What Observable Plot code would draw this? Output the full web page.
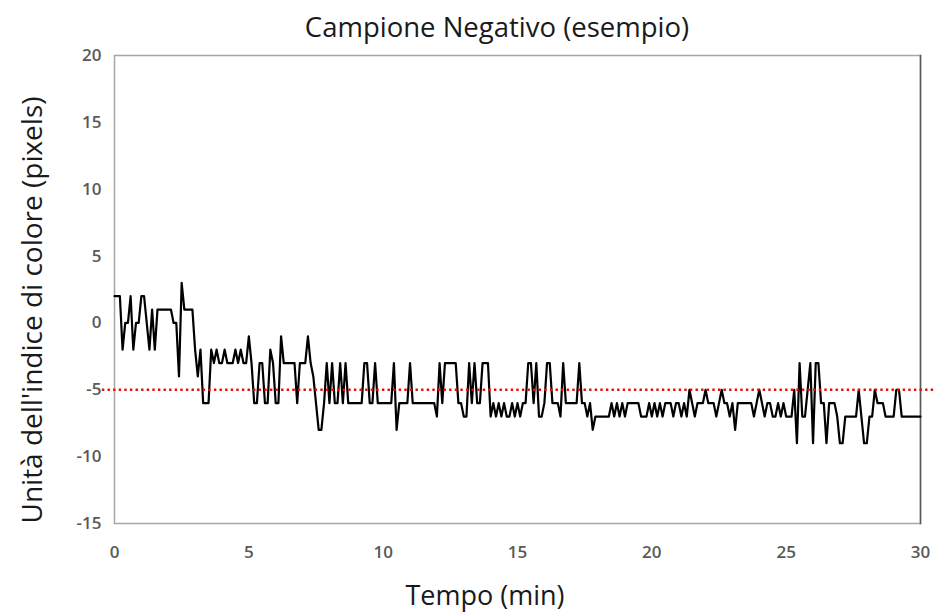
<!DOCTYPE html>
<html><head><meta charset="utf-8">
<script src="https://cdn.jsdelivr.net/npm/d3@7"></script>
<script src="https://cdn.jsdelivr.net/npm/@observablehq/plot@0.6"></script>
<style>html,body{margin:0;padding:0;background:#fff}svg{display:block}</style>
</head><body><div id="chart"></div>
<script>
const titolo = "Campione Negativo (esempio)";
const etichettaX = "Tempo (min)";
const etichettaY = "Unità dell'indice di colore (pixels)";
const tickX = [0, 5, 10, 15, 20, 25, 30];
const tickY = [-15, -10, -5, 0, 5, 10, 15, 20];
const soglia = -5;
const tempo = [
0,0.1,0.2,0.3,0.4,0.5,0.6,0.7,0.8,0.9,
1,1.1,1.2,1.3,1.4,1.5,1.6,1.7,1.8,1.9,
2,2.1,2.2,2.3,2.4,2.5,2.6,2.7,2.8,2.9,
3,3.1,3.2,3.3,3.4,3.5,3.6,3.7,3.8,3.9,
4,4.1,4.2,4.3,4.4,4.5,4.6,4.7,4.8,4.9,
5,5.1,5.2,5.3,5.4,5.5,5.6,5.7,5.8,5.9,
6,6.1,6.2,6.3,6.4,6.5,6.6,6.7,6.8,6.9,
7,7.1,7.2,7.3,7.4,7.5,7.6,7.7,7.8,7.9,
8,8.1,8.2,8.3,8.4,8.5,8.6,8.7,8.8,8.9,
9,9.1,9.2,9.3,9.4,9.5,9.6,9.7,9.8,9.9,
10,10.1,10.2,10.3,10.4,10.5,10.6,10.7,10.8,10.9,
11,11.1,11.2,11.3,11.4,11.5,11.6,11.7,11.8,11.9,
12,12.1,12.2,12.3,12.4,12.5,12.6,12.7,12.8,12.9,
13,13.1,13.2,13.3,13.4,13.5,13.6,13.7,13.8,13.9,
14,14.1,14.2,14.3,14.4,14.5,14.6,14.7,14.8,14.9,
15,15.1,15.2,15.3,15.4,15.5,15.6,15.7,15.8,15.9,
16,16.1,16.2,16.3,16.4,16.5,16.6,16.7,16.8,16.9,
17,17.1,17.2,17.3,17.4,17.5,17.6,17.7,17.8,17.9,
18,18.1,18.2,18.3,18.4,18.5,18.6,18.7,18.8,18.9,
19,19.1,19.2,19.3,19.4,19.5,19.6,19.7,19.8,19.9,
20,20.1,20.2,20.3,20.4,20.5,20.6,20.7,20.8,20.9,
21,21.1,21.2,21.3,21.4,21.5,21.6,21.7,21.8,21.9,
22,22.1,22.2,22.3,22.4,22.5,22.6,22.7,22.8,22.9,
23,23.1,23.2,23.3,23.4,23.5,23.6,23.7,23.8,23.9,
24,24.1,24.2,24.3,24.4,24.5,24.6,24.7,24.8,24.9,
25,25.1,25.2,25.3,25.4,25.5,25.6,25.7,25.8,25.9,
26,26.1,26.2,26.3,26.4,26.5,26.6,26.7,26.8,26.9,
27,27.1,27.2,27.3,27.4,27.5,27.6,27.7,27.8,27.9,
28,28.1,28.2,28.3,28.4,28.5,28.6,28.7,28.8,28.9,
29,29.1,29.2,29.3,29.4,29.5,29.6,29.7,29.8,29.9,
30];
const valori = [
2,2,2,-2,0,0,2,-2,0,0,
2,2,0,-2,1,-2,1,1,1,1,
1,1,0,0,-4,3,1,1,1,1,
-2,-4,-2,-6,-6,-6,-2,-3,-2,-3,
-3,-2,-3,-3,-3,-2,-3,-2,-3,-3,
-1,-3,-6,-6,-3,-3,-6,-6,-2,-3,
-6,-6,-1,-3,-3,-3,-3,-3,-6,-3,
-3,-3,-1,-3,-4,-6,-8,-8,-6,-3,
-6,-3,-6,-6,-3,-6,-3,-6,-6,-6,
-6,-6,-6,-3,-3,-6,-6,-3,-6,-6,
-6,-6,-6,-6,-3,-8,-6,-6,-6,-6,
-3,-6,-6,-6,-6,-6,-6,-6,-6,-6,
-7,-3,-6,-3,-3,-3,-3,-3,-6,-6,
-7,-7,-3,-6,-3,-6,-6,-3,-3,-3,
-7,-6,-7,-6,-7,-6,-7,-7,-6,-7,
-6,-7,-6,-6,-3,-3,-6,-3,-7,-7,
-6,-3,-3,-6,-6,-6,-7,-3,-6,-6,
-6,-6,-6,-3,-6,-6,-7,-6,-8,-7,
-7,-7,-7,-7,-7,-6,-7,-6,-7,-6,
-7,-6,-6,-6,-6,-6,-7,-7,-7,-6,
-7,-6,-7,-6,-7,-6,-6,-6,-7,-6,
-6,-7,-6,-7,-5,-6,-7,-6,-6,-6,
-5,-6,-6,-6,-7,-6,-5,-6,-6,-7,
-6,-8,-6,-6,-6,-6,-6,-6,-7,-6,
-5,-6,-7,-6,-6,-7,-7,-6,-7,-6,
-7,-7,-7,-5,-9,-3,-7,-7,-5,-3,
-9,-3,-3,-6,-6,-9,-6,-6,-6,-7,
-9,-9,-7,-7,-7,-7,-7,-5,-7,-9,
-9,-7,-7,-5,-6,-6,-6,-7,-7,-7,
-7,-5,-5,-7,-7,-7,-7,-7,-7,-7,
-7];

const dati = tempo.map((t, i) => ({t, v: valori[i]}));
const font = "Open Sans, sans-serif";
const fmt = d => String(d);

const plot = Plot.plot({
  width: 934, height: 614,
  marginLeft: 114, marginRight: 14, marginTop: 55, marginBottom: 91,
  style: {fontFamily: font, background: "#fff", overflow: "visible"},
  x: {domain: [0, 30], axis: null},
  y: {domain: [-15, 20], axis: null},
  marks: [
    Plot.axisX({ticks: tickX, tickFormat: fmt, tickSize: 0, tickPadding: 22, fontSize: 17, fontWeight: 600, fill: "#595959", label: null}),
    Plot.axisY({ticks: tickY, tickFormat: fmt, tickSize: 0, tickPadding: 13, fontSize: 17, fontWeight: 600, fill: "#595959", label: null}),
    Plot.frame({stroke: "#A6A6A6", strokeWidth: 1.5}),
    Plot.frame({anchor: "right", stroke: "#595959", strokeWidth: 1.5}),
    Plot.line(dati, {x: "t", y: "v", stroke: "#000", strokeWidth: 2.2, strokeLinejoin: "round"}),
    Plot.ruleY([soglia], {x1: -0.45, x2: 30.55, stroke: "#E01010", strokeWidth: 2.4, strokeDasharray: "2.4,3.2"})
  ]
});

const svg = d3.select(plot);
svg.append("text").attr("x", 497).attr("y", 37).attr("text-anchor", "middle")
  .style("font-family", font).style("font-size", "27.5px").attr("fill", "#1a1a1a").text(titolo);
svg.append("text").attr("x", 485).attr("y", 605).attr("text-anchor", "middle")
  .style("font-family", font).style("font-size", "27px").attr("fill", "#1a1a1a").text(etichettaX);
svg.append("text").attr("transform", "translate(42,310) rotate(-90)").attr("text-anchor", "middle")
  .style("font-family", font).style("font-size", "28px").attr("fill", "#1a1a1a").text(etichettaY);

document.getElementById("chart").appendChild(plot);
</script>
</body></html>
